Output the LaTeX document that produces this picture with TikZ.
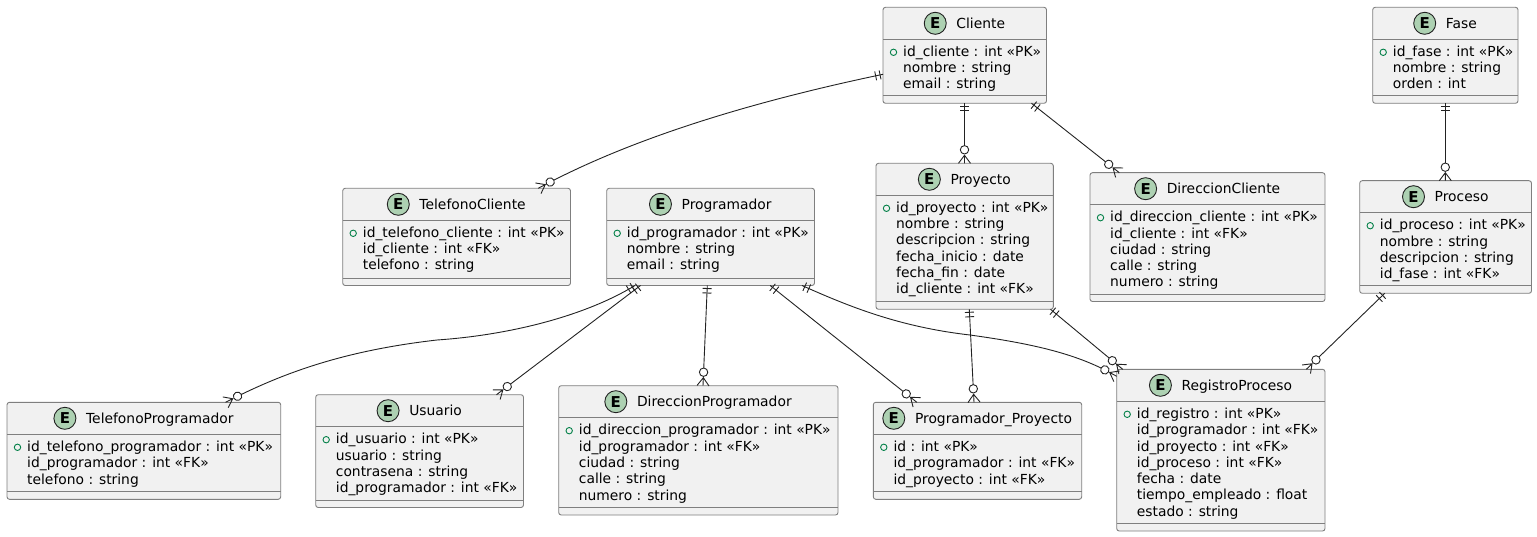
\documentclass[tikz,border=0pt]{standalone}
\usepackage{fontspec}
\setmainfont{DejaVu Sans}
\usepackage{tikz}

\definecolor{boxfill}{HTML}{F1F1F1}
\definecolor{boxline}{HTML}{7F7F7F}
\definecolor{markfill}{HTML}{ADD1B2}
\definecolor{pkline}{HTML}{038048}
\definecolor{relline}{HTML}{222222}

\pgfdeclarearrow{
  name = Crow,
  setup code = {
    \pgfarrowssettipend{0pt}
    \pgfarrowssetlineend{-9.3pt}
    \pgfarrowssetbackend{-18pt}
    \pgfarrowshullpoint{0pt}{6pt}
    \pgfarrowshullpoint{0pt}{-6pt}
    \pgfarrowshullpoint{-18pt}{0pt}
  },
  drawing code = {
    \pgfsetlinewidth{0.9pt}
    \pgfpathmoveto{\pgfpoint{0pt}{6pt}}
    \pgfpathlineto{\pgfpoint{-8pt}{0pt}}
    \pgfpathlineto{\pgfpoint{0pt}{-6pt}}
    \pgfpathmoveto{\pgfpoint{-8pt}{0pt}}
    \pgfpathlineto{\pgfpoint{0pt}{0pt}}
    \pgfusepathqstroke
    \pgfsetfillcolor{white}
    \pgfpathcircle{\pgfpoint{-13.5pt}{0pt}}{4.2pt}
    \pgfusepathqfillstroke
  },
  defaults = {}
}
\pgfdeclarearrow{
  name = TwoBars,
  setup code = {
    \pgfarrowssettipend{0pt}
    \pgfarrowssetlineend{0pt}
    \pgfarrowssetbackend{-8pt}
    \pgfarrowshullpoint{0pt}{4.5pt}
    \pgfarrowshullpoint{0pt}{-4.5pt}
    \pgfarrowshullpoint{-8pt}{4.5pt}
    \pgfarrowshullpoint{-8pt}{-4.5pt}
  },
  drawing code = {
    \pgfsetlinewidth{0.9pt}
    \pgfpathmoveto{\pgfpoint{-3pt}{4.5pt}}
    \pgfpathlineto{\pgfpoint{-3pt}{-4.5pt}}
    \pgfpathmoveto{\pgfpoint{-7.5pt}{4.5pt}}
    \pgfpathlineto{\pgfpoint{-7.5pt}{-4.5pt}}
    \pgfusepathqstroke
  },
  defaults = {}
}

\tikzset{
  entitybox/.style={draw=boxline,fill=boxfill,rounded corners=2.5pt,line width=0.9pt,
    anchor=north west,inner sep=0pt,outer sep=0pt},
  sepline/.style={draw=boxline,line width=0.9pt},
  titletext/.style={anchor=base,inner sep=0pt,font=\fontsize{13.85}{16}\selectfont},
  rowtext/.style={anchor=base west,inner sep=0pt,font=\fontsize{13.85}{16}\selectfont},
  emark/.style={circle,draw=relline,fill=markfill,line width=0.9pt,minimum size=22pt,inner sep=0pt,
    font=\fontsize{15}{15}\selectfont\bfseries,text=black},
  pkmark/.style={circle,draw=pkline,line width=0.9pt,minimum size=6.4pt,inner sep=0pt},
  rel/.style={{TwoBars}-{Crow},draw=relline,line width=0.9pt}
}

% id, x0, y0, x1, y1, title, rows
\newcommand{\entity}[7]{
  \node[entitybox,minimum width={(#4-#2)*1pt},minimum height={(#5-#3)*1pt}] (#1) at (#2,#3) {};
  \path[sepline] (#2,#3+32) -- (#4,#3+32);
  \path[sepline] (#2,#5-7.5) -- (#4,#5-7.5);
  \node[titletext] (#1-title) at ({(#2+#4)/2+16},#3+21) {#6};
  \node[emark] (#1-mark) at ([xshift=-21pt,yshift=5pt]#1-title.base west) {E};
  \node[pkmark] (#1-pk) at (#2+10.5,#3+45) {};
  \foreach \row [count=\i] in {#7}
    \node[rowtext] (#1-row\i) at (#2+20,{#3+49.1+16.3*(\i-1)}) {\row};
}

\begin{document}
\begin{tikzpicture}[x=1pt,y=-1pt]
   \useasboundingbox (0,0) rectangle (1537,537);

   \entity{Cliente}{883}{7.3}{1046.5}{103.3}{Cliente}
     {id\_cliente : int «PK»,nombre : string,email : string}
   \entity{Fase}{1372.7}{7.3}{1518}{103.3}{Fase}
     {id\_fase : int «PK»,nombre : string,orden : int}
   \entity{Proyecto}{876}{163.3}{1053.3}{309.3}{Proyecto}
     {id\_proyecto : int «PK»,nombre : string,descripcion : string,fecha\_inicio : date,fecha\_fin : date,id\_cliente : int «FK»}
   \entity{DireccionCliente}{1090}{172.7}{1325}{301.5}{DireccionCliente}
     {id\_direccion\_cliente : int «PK»,id\_cliente : int «FK»,ciudad : string,calle : string,numero : string}
   \entity{TelefonoCliente}{342.7}{188.3}{570.5}{285.5}{TelefonoCliente}
     {id\_telefono\_cliente : int «PK»,id\_cliente : int «FK»,telefono : string}
   \entity{Programador}{606.7}{188.3}{814.5}{285.5}{Programador}
     {id\_programador : int «PK»,nombre : string,email : string}
   \entity{Proceso}{1359.7}{180.7}{1531.5}{293.3}{Proceso}
     {id\_proceso : int «PK»,nombre : string,descripcion : string,id\_fase : int «FK»}
   \entity{TelefonoProgramador}{7}{402.3}{280.7}{499.3}{TelefonoProgramador}
     {id\_telefono\_programador : int «PK»,id\_programador : int «FK»,telefono : string}
   \entity{Usuario}{315.7}{394.7}{523.5}{507.5}{Usuario}
     {id\_usuario : int «PK»,usuario : string,contrasena : string,id\_programador : int «FK»}
   \entity{DireccionProgramador}{558.7}{385.7}{838}{515}{DireccionProgramador}
     {id\_direccion\_programador : int «PK»,id\_programador : int «FK»,ciudad : string,calle : string,numero : string}
   \entity{ProgramadorProyecto}{873.3}{402.3}{1081.7}{499.3}{Programador\_Proyecto}
     {id : int «PK»,id\_programador : int «FK»,id\_proyecto : int «FK»}
   \entity{RegistroProceso}{1116.7}{369.3}{1325}{531}{RegistroProceso}
     {id\_registro : int «PK»,id\_programador : int «FK»,id\_proyecto : int «FK»,id\_proceso : int «FK»,fecha : date,tiempo\_empleado : float,estado : string}

   \path
    ([xshift=81.5pt]Cliente.south west) edge[rel] ([xshift=88.5pt]Proyecto.north west)
    ([xshift=148.5pt]Cliente.south west) edge[rel] ([xshift=29.3pt]DireccionCliente.north west)
    ([xshift=72.6pt]Fase.south west) edge[rel] ([xshift=85.6pt]Proceso.north west)
    ([xshift=25pt]Proceso.south west) edge[rel] ([xshift=189.6pt]RegistroProceso.north west)
    ([xshift=174.5pt]Proyecto.south west) edge[rel] ([xshift=6pt]RegistroProceso.north west)
    ([xshift=93.3pt]Proyecto.south west) edge[rel] ([xshift=100.7pt]ProgramadorProyecto.north west)
    ([xshift=163.5pt]Programador.south west) edge[rel] ([xshift=43.5pt]ProgramadorProyecto.north west)
    ([xshift=100.6pt]Programador.south west) edge[rel] ([xshift=144.3pt]DireccionProgramador.north west)
    ([xshift=33.8pt]Programador.south west) edge[rel] ([xshift=180.8pt]Usuario.north west);
   \draw[rel] ([yshift=-67pt]Cliente.north west) .. controls (760,100) and (640,135) .. ([xshift=195.5pt]TelefonoCliente.north west);
   \draw[rel] ([xshift=28.3pt]Programador.south west) .. controls (585,316) and (510,335) .. (437,340)
     .. controls (350,350) and (290,370) .. ([xshift=218.5pt]TelefonoProgramador.north west);
   \draw[rel] ([xshift=195.3pt]Programador.south west) .. controls (850,307) and (900,327) .. (970,335)
     .. controls (1020,342) and (1070,351) .. ([yshift=-7pt]RegistroProceso.north west);
\end{tikzpicture}
\end{document}
